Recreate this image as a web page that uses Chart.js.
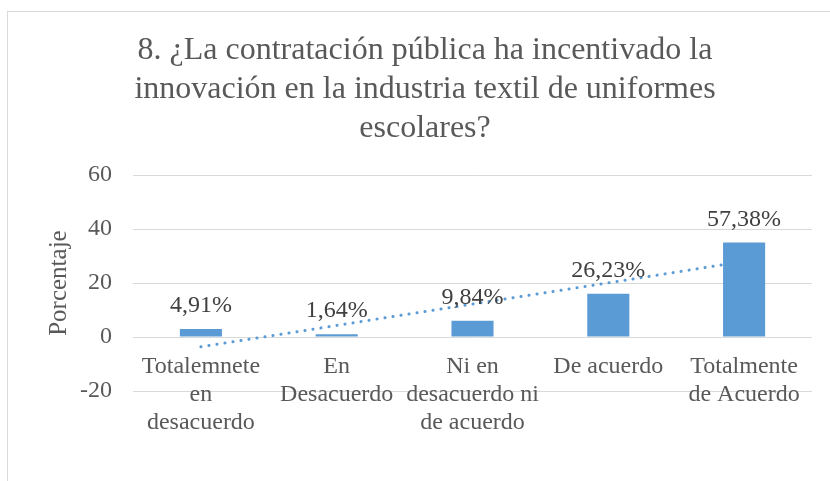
<!DOCTYPE html>
<html lang="es">
<head>
    <meta charset="UTF-8">
    <title>Contratación pública e innovación</title>
    <script src="https://cdn.jsdelivr.net/npm/chart.js@4.4.1/dist/chart.umd.min.js"></script>
    <style>
        html, body { margin: 0; padding: 0; background: #fff; overflow: hidden; }
        #frame {
            position: absolute; left: 7px; top: 11px;
            width: 900px; height: 600px;
            border: 1.5px solid #d9d9d9;
        }
        #wrap { position: absolute; left: 0; top: 0; width: 830px; height: 481px; }
    </style>
</head>
<body>
    <div id="frame"></div>
    <div id="wrap"><canvas id="chart"></canvas></div>

    <script>
        // categorias del eje X (con saltos de linea como en el original)
        const categories = [
            ['Totalemnete', 'en', 'desacuerdo'],
            ['En', 'Desacuerdo'],
            ['Ni en', 'desacuerdo ni', 'de acuerdo'],
            ['De acuerdo'],
            ['Totalmente', 'de Acuerdo']
        ];
        // frecuencias (altura de las barras)
        const counts = [3, 1, 6, 16, 35];
        // etiquetas de datos mostradas sobre cada barra
        const pctLabels = ['4,91%', '1,64%', '9,84%', '26,23%', '57,38%'];
        // linea de tendencia (lineal)
        const trend = [-3.6, 4.3, 12.2, 20.1, 28.0];
        const yTicks = [-20, 0, 20, 40, 60];

        const serif = 'Liberation Serif, Times New Roman, serif';
        const grey = '#595959';
        const blue = '#5B9BD5';

        // dibuja los porcentajes encima de las barras
        const barLabels = {
            id: 'barLabels',
            afterDatasetsDraw(chart) {
                const meta = chart.getDatasetMeta(0);
                const ctx = chart.ctx;
                ctx.save();
                ctx.font = '24px ' + serif;
                ctx.fillStyle = '#404040';
                ctx.textAlign = 'center';
                ctx.textBaseline = 'alphabetic';
                meta.data.forEach((bar, i) => {
                    ctx.fillText(pctLabels[i], bar.x, bar.y - 17);
                });
                ctx.restore();
            }
        };

        new Chart(document.getElementById('chart'), {
            type: 'bar',
            data: {
                labels: categories,
                datasets: [
                    {
                        label: 'Porcentaje',
                        data: counts,
                        backgroundColor: blue,
                        barPercentage: 0.31,
                        categoryPercentage: 1,
                        order: 1
                    },
                    {
                        type: 'line',
                        label: 'Lineal',
                        data: trend,
                        borderColor: blue,
                        borderWidth: 3,
                        borderDash: [0.1, 8],
                        borderCapStyle: 'round',
                        pointRadius: 0,
                        tension: 0,
                        fill: false,
                        order: 2
                    }
                ]
            },
            options: {
                responsive: true,
                maintainAspectRatio: false,
                animation: false,
                layout: { padding: { left: 38, right: 18, top: 0, bottom: 90 } },
                plugins: {
                    legend: { display: false },
                    tooltip: { enabled: false },
                    title: {
                        display: true,
                        text: [
                            '8. ¿La contratación pública ha incentivado la',
                            'innovación en la industria textil de uniformes',
                            'escolares?'
                        ],
                        color: grey,
                        font: { family: serif, size: 32, weight: 'normal', lineHeight: 1.22 },
                        padding: { top: 31, bottom: 27 }
                    }
                },
                scales: {
                    x: {
                        position: { y: 0 },
                        grid: { display: false, drawTicks: false },
                        border: { display: false },
                        ticks: {
                            color: grey,
                            padding: 16,
                            maxRotation: 0,
                            autoSkip: false,
                            font: { family: serif, size: 24, lineHeight: 1.167 }
                        }
                    },
                    y: {
                        min: -20,
                        max: 60,
                        afterBuildTicks(scale) {
                            scale.ticks = yTicks.map(v => ({ value: v }));
                        },
                        afterFit(scale) { scale.width = 95; },
                        grid: { color: '#d9d9d9', lineWidth: 1, drawTicks: false },
                        border: { display: false },
                        ticks: {
                            color: grey,
                            padding: 21,
                            font: { family: serif, size: 24 }
                        },
                        title: {
                            display: true,
                            text: 'Porcentaje',
                            color: grey,
                            padding: { top: 6, bottom: 4 },
                            font: { family: serif, size: 25 }
                        }
                    }
                }
            },
            plugins: [barLabels]
        });
    </script>
</body>
</html>
